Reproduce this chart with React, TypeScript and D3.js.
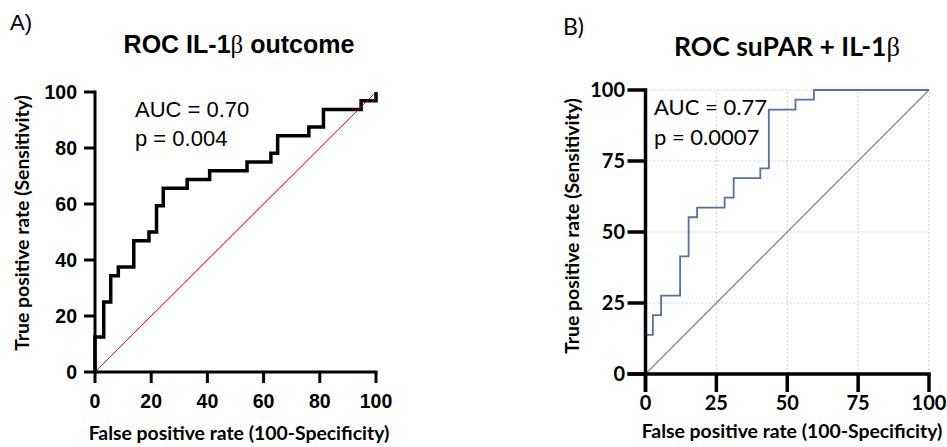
import React from "react";
import * as d3 from "d3";

// Panel A: ROC IL-1β outcome (step corners, curveStepAfter)
const leftFpr = [0, 0, 3.1, 5.6, 8.3, 13.8, 19.2, 21.9, 24.3, 32.8, 40.8, 54.1, 62.6, 65, 76.1, 81.3, 94.7, 100];
const leftTpr = [0, 12.5, 25, 34.4, 37.5, 46.9, 50, 59.4, 65.6, 68.75, 71.9, 75, 78.1, 84.4, 87.5, 93.75, 96.9, 100];
const leftTicks = [0, 20, 40, 60, 80, 100];

// Panel B: ROC suPAR + IL-1β
const rightFpr = [0, 0, 2.6, 5.5, 12.2, 15.2, 18.2, 27.9, 31.1, 40.5, 43.5, 52.9, 59.4, 100];
const rightTpr = [0, 13.8, 20.7, 27.6, 41.4, 55.2, 58.6, 62.1, 69.0, 72.4, 93.1, 96.6, 100, 100];
const rightTicks = [0, 25, 50, 75, 100];

const ARIAL = "'Liberation Sans', Arial, sans-serif";
const CALIBRI = "Lato, 'Open Sans', sans-serif";
const SERIF = "'Liberation Serif', 'DejaVu Serif', serif";

export default function App() {
  const lx = d3.scaleLinear().domain([0, 100]).range([95, 376]);
  const ly = d3.scaleLinear().domain([0, 100]).range([372, 92]);
  const rx = d3.scaleLinear().domain([0, 100]).range([645.5, 929]);
  const ry = d3.scaleLinear().domain([0, 100]).range([374, 90]);

  const leftPath = d3
    .line<number>()
    .x((d) => lx(d))
    .y((_, i) => ly(leftTpr[i]))
    .curve(d3.curveStepAfter)(leftFpr);

  const rightPath = d3
    .line<number>()
    .x((d) => rx(d))
    .y((_, i) => ry(rightTpr[i]))
    .curve(d3.curveStepAfter)(rightFpr);

  return (
    <svg
      width={947}
      height={447}
      style={{ position: "absolute", left: 0, top: 0, background: "#fff" }}
    >
      {/* ---------- Panel A ---------- */}
      <text x={10} y={30} fontFamily={ARIAL} fontSize={22}>A)</text>
      <text x={239} y={53} textAnchor="middle" fontFamily={ARIAL} fontSize={25} fontWeight="bold">
        ROC IL-1<tspan fontFamily={SERIF} fontWeight="normal">β</tspan> outcome
      </text>

      <line x1={lx(0)} x2={lx(100)} y1={ly(0)} y2={ly(100)} stroke="#ff0000" strokeWidth={0.8} />
      <path d={leftPath ?? ""} fill="none" stroke="#000" strokeWidth={3.5} strokeLinejoin="miter" />
      <line x1={lx(0)} x2={lx(100)} y1={ly(0)} y2={ly(100)} stroke="#ff0000" strokeWidth={0.8} opacity={0.8} />

      {/* axes */}
      <line x1={lx(0)} x2={lx(0)} y1={ly(100) - 1.5} y2={ly(0) + 1.5} stroke="#000" strokeWidth={3} />
      <line x1={lx(0) - 1.5} x2={lx(100) + 1.5} y1={ly(0)} y2={ly(0)} stroke="#000" strokeWidth={3} />
      {leftTicks.map((t) => (
        <g key={`ly${t}`}>
          <line x1={lx(0) - 11} x2={lx(0)} y1={ly(t)} y2={ly(t)} stroke="#000" strokeWidth={3} />
          <text x={77} y={ly(t) + 7} textAnchor="end" fontFamily={ARIAL} fontSize={19.5} fontWeight="bold">{t}</text>
        </g>
      ))}
      {leftTicks.map((t) => (
        <g key={`lx${t}`}>
          <line x1={lx(t)} x2={lx(t)} y1={ly(0)} y2={ly(0) + 11} stroke="#000" strokeWidth={3} />
          <text x={lx(t)} y={408} textAnchor="middle" fontFamily={ARIAL} fontSize={19.5} fontWeight="bold">{t}</text>
        </g>
      ))}
      <text x={239} y={440} textAnchor="middle" fontFamily={CALIBRI} fontSize={19.4} fontWeight="bold">
        False positive rate (100-Specificity)
      </text>
      <text transform="translate(29,223) rotate(-90)" textAnchor="middle" fontFamily={CALIBRI} fontSize={19.4} fontWeight="bold">
        True positive rate (Sensitivity)
      </text>

      <text x={135} y={117} fontFamily={ARIAL} fontSize={22}>AUC = 0.70</text>
      <text x={135} y={146} fontFamily={ARIAL} fontSize={22}>p = 0.004</text>

      {/* ---------- Panel B ---------- */}
      <text x={563} y={35} fontFamily={CALIBRI} fontSize={23}>B)</text>
      <text x={787} y={56} textAnchor="middle" fontFamily={CALIBRI} fontSize={26.5} fontWeight="bold">
        ROC suPAR + IL-1<tspan fontFamily={SERIF} fontWeight="normal">β</tspan>
      </text>

      {/* grid */}
      {rightTicks.slice(1).map((t) => (
        <g key={`g${t}`}>
          <line x1={rx(t)} x2={rx(t)} y1={ry(0)} y2={ry(100)} stroke="#cfcfcf" strokeWidth={1} strokeDasharray="2,2" />
          <line x1={rx(0)} x2={rx(100)} y1={ry(t)} y2={ry(t)} stroke="#cfcfcf" strokeWidth={1} strokeDasharray="2,2" />
        </g>
      ))}

      <line x1={rx(0)} x2={rx(100)} y1={ry(0)} y2={ry(100)} stroke="#8a8a8a" strokeWidth={1.3} />
      <path d={rightPath ?? ""} fill="none" stroke="#5072a7" strokeWidth={1.8} />

      <line x1={rx(0)} x2={rx(0)} y1={ry(100) - 1.75} y2={ry(0) + 18} stroke="#000" strokeWidth={3.5} />
      <line x1={rx(0) - 18} x2={rx(100) + 1.75} y1={ry(0)} y2={ry(0)} stroke="#000" strokeWidth={3.5} />
      {rightTicks.map((t) => (
        <g key={`ry${t}`}>
          <line x1={rx(0) - 18} x2={rx(0)} y1={ry(t)} y2={ry(t)} stroke="#000" strokeWidth={3.5} />
          <text x={625} y={ry(t) + 7} textAnchor="end" fontFamily={CALIBRI} fontSize={20} fontWeight="bold">{t}</text>
        </g>
      ))}
      {rightTicks.map((t) => (
        <g key={`rx${t}`}>
          <line x1={rx(t)} x2={rx(t)} y1={ry(0)} y2={ry(0) + 18} stroke="#000" strokeWidth={3.5} />
          <text x={rx(t)} y={410} textAnchor="middle" fontFamily={CALIBRI} fontSize={20} fontWeight="bold">{t}</text>
        </g>
      ))}
      <text x={792} y={438} textAnchor="middle" fontFamily={CALIBRI} fontSize={19.4} fontWeight="bold">
        False positive rate (100-Specificity)
      </text>
      <text transform="translate(579,226) rotate(-90)" textAnchor="middle" fontFamily={CALIBRI} fontSize={19.4} fontWeight="bold">
        True positive rate (Sensitivity)
      </text>

      <text x={654} y={115} fontFamily={CALIBRI} fontSize={22}>AUC = 0.77</text>
      <text x={654} y={145} fontFamily={CALIBRI} fontSize={22}>p = 0.0007</text>
    </svg>
  );
}
